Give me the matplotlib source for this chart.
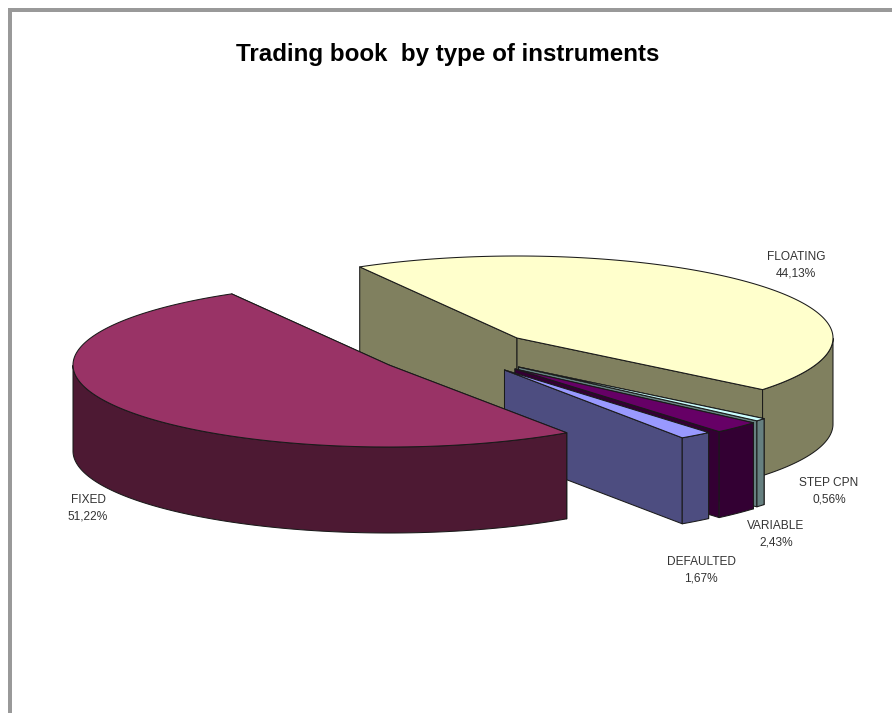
"""
Trading book by type of instruments - exploded 3D pie
"""

import numpy as np
import matplotlib
matplotlib.use("Agg")
import matplotlib.pyplot as plt
from matplotlib.patches import Rectangle

plt.rcParams["font.family"] = ["Liberation Sans", "DejaVu Sans"]

# ---------------------------------------------
# DATA
# ---------------------------------------------
title = "Trading book  by type of instruments"
names = ["FLOATING", "STEP CPN", "VARIABLE", "DEFAULTED", "FIXED"]
shares = [44.13, 0.56, 2.43, 1.67, 51.22]

# ---------------------------------------------
# STYLE / LAYOUT (figure pixels)
# ---------------------------------------------
top_colors = ["#ffffcc", "#ccffff", "#660066", "#9999ff", "#993366"]
side_colors = ["#80805f", "#668080", "#330033", "#4d4d80", "#4d1933"]
centers = [(517, 338), (518.5, 367), (515, 369), (504.5, 370), (389, 365)]
label_pos = [(796, 265), (829, 491.5), (776, 534), (701, 570), (88, 508)]
RX, RY, DEPTH = 316, 82, 86
START = -39.0  # angle where FLOATING begins
EDGE = "#1a1a1a"
LW = 0.75


def rim(center, t):
    t = np.radians(t)
    return np.column_stack([center[0] + RX * np.cos(t), center[1] - RY * np.sin(t)])


def draw_slice(ax, center, t0, t1, top, side):
    p0 = rim(center, np.array([t0]))[0]
    p1 = rim(center, np.array([t1]))[0]
    c = np.array(center, dtype=float)
    drop = np.array([0, DEPTH])

    # cut faces
    for p in (p1, p0):
        face = np.array([c, p, p + drop, c + drop])
        ax.fill(face[:, 0], face[:, 1], fc=side, ec=EDGE, lw=LW, joinstyle="round")

    # outer wall, only the front half of the rim can be seen
    angles = np.linspace(t0, t1, 300)
    angles = angles[np.sin(np.radians(angles)) < 0]
    if len(angles) > 1:
        arc = rim(center, angles)
        wall = np.vstack([arc, arc[::-1] + drop])
        ax.fill(wall[:, 0], wall[:, 1], fc=side, ec=EDGE, lw=LW, joinstyle="round")

    # top
    arc = rim(center, np.linspace(t0, t1, 300))
    poly = np.vstack([c, arc])
    ax.fill(poly[:, 0], poly[:, 1], fc=top, ec=EDGE, lw=LW, joinstyle="round")


fig = plt.figure(figsize=(8.92, 7.13), dpi=100)
ax = fig.add_axes([0, 0, 1, 1])
ax.set_xlim(0, 892)
ax.set_ylim(713, 0)
ax.axis("off")

# page border
ax.add_patch(Rectangle((8, 8), 884, 4, fc="#999999", ec="none"))
ax.add_patch(Rectangle((8, 8), 4, 705, fc="#999999", ec="none"))

ax.text(447.5, 54, title, ha="center", va="center", fontsize=17.4, fontweight="bold")

# slices go clockwise from START, painted back to front
t = START
for name, share, c, top, side, pos in zip(names, shares, centers, top_colors, side_colors, label_pos):
    sweep = share / sum(shares) * 360
    if name == "FLOATING":
        draw_slice(ax, c, t, t + sweep, top, side)
        t = START
    else:
        draw_slice(ax, c, t - sweep, t, top, side)
        t -= sweep
    ax.text(pos[0], pos[1], f"{name}\n{share:.2f}%".replace(".", ","), ha="center", va="center",
            fontsize=8.6, linespacing=1.55, color="#333333")

fig.savefig("out.png", dpi=100)
